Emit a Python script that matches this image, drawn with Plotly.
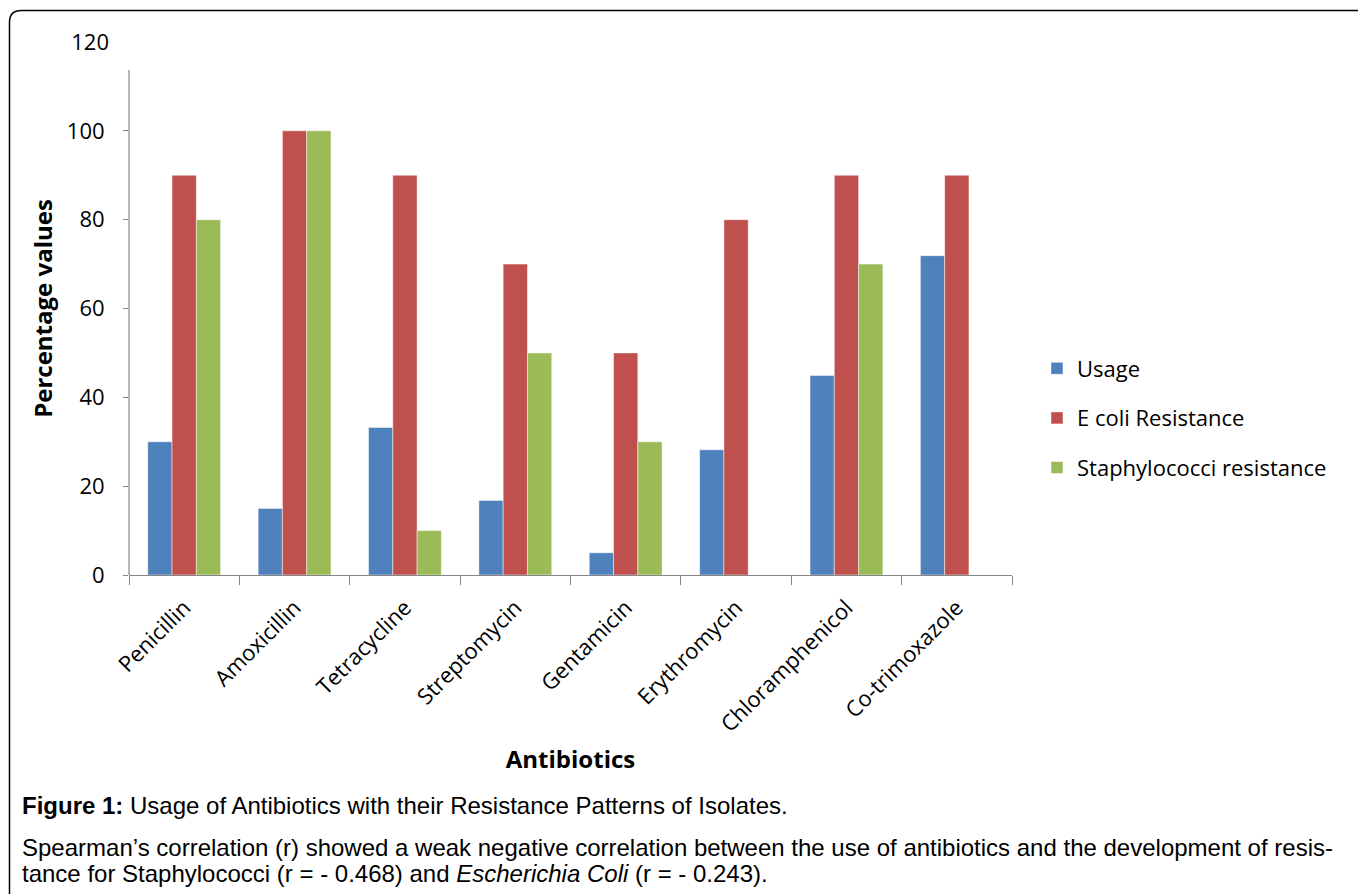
import plotly.graph_objects as go

# Antibiotic names on the category axis
antibiotics = ["Penicillin", "Amoxicillin", "Tetracycline", "Streptomycin",
               "Gentamicin", "Erythromycin", "Chloramphenicol", "Co-trimoxazole"]

# Percentage values per series (None = not tested)
usage = [30, 15, 33.2, 16.8, 5, 28.2, 44.9, 71.9]
ecoli_resistance = [90, 100, 90, 70, 50, 80, 90, 90]
staph_resistance = [80, 100, 10, 50, 30, None, 70, None]

y_ticks = [0, 20, 40, 60, 80, 100]
y_top_tick = [120]

series = [
    ("Usage", usage, "#4F81BD"),
    ("E coli Resistance", ecoli_resistance, "#C0504D"),
    ("Staphylococci resistance", staph_resistance, "#9BBB59"),
]

W, H = 1358, 894
L, R, T, B = 129, 1012, 42, 575  # plot area in pixels


def px(x):
    return (x - L) / (R - L)


def py(y):
    return (B - y) / (B - T)


fig = go.Figure()
for i, (name, vals, color) in enumerate(series):
    fig.add_trace(go.Bar(
        x=antibiotics, y=vals, name=name, legendgroup=f"g{i}",
        marker=dict(color=color, line=dict(color="rgba(255,255,255,0.6)", width=0.8)),
    ))

tick_font = dict(family="Open Sans", size=22, color="black")
axis_gray = "#868686"

fig.update_layout(
    width=W, height=H,
    margin=dict(l=L, r=W - R, t=T, b=H - B),
    paper_bgcolor="white", plot_bgcolor="white",
    barmode="group", bargap=0.34, bargroupgap=0,
    font=dict(family="Open Sans", color="black"),
    legend=dict(
        x=px(1037), y=py(418), xanchor="left", yanchor="middle",
        font=dict(family="Open Sans", size=22, color="black"),
        traceorder="grouped", tracegroupgap=18,
        itemwidth=30, bgcolor="rgba(0,0,0,0)",
    ),
    xaxis=dict(
        type="category", range=[-0.5, len(antibiotics) - 0.5],
        showline=True, linecolor=axis_gray, linewidth=1.2,
        ticks="outside", tickson="boundaries", ticklen=9, tickcolor=axis_gray, tickwidth=1.2,
        tickangle=-45, tickfont=tick_font, ticklabelstandoff=10,
        showgrid=False, automargin=False,
        title=dict(text="<b>Antibiotics</b>", font=dict(family="Open Sans", size=24, color="black"),
                   standoff=14),
    ),
    yaxis=dict(
        range=[0, 120], tickvals=y_ticks, showline=False,
        ticks="outside", ticklen=5, tickcolor=axis_gray, tickwidth=1.2,
        tickfont=tick_font, ticklabelstandoff=14, showgrid=False, zeroline=False,
        automargin=False,
        title=dict(text="<b>Percentage values</b>", font=dict(family="Open Sans", size=24, color="black"),
                   standoff=7),
    ),
    # top label of the value scale, shown without a tick mark
    yaxis2=dict(
        overlaying="y", side="left", range=[0, 120], tickvals=y_top_tick,
        ticks="", ticklen=5, tickfont=tick_font, ticklabelstandoff=19,
        showgrid=False, zeroline=False, showline=False, automargin=False,
    ),
)

# invisible trace so the secondary scale is drawn
fig.add_trace(go.Bar(x=[antibiotics[0]], y=[None], yaxis="y2", showlegend=False,
                     hoverinfo="skip"))

# vertical axis line, stopping below the top tick label
fig.add_shape(type="line", xref="paper", yref="y", x0=0, x1=0, y0=0, y1=113.7,
              line=dict(color=axis_gray, width=1.2))

# rounded frame around the figure
frame = (f"M {px(9.5)},{py(H + 20)} L {px(9.5)},{py(22)} "
         f"Q {px(9.5)},{py(10.5)} {px(21.5)},{py(10.5)} L {px(W + 20)},{py(10.5)}")
fig.add_shape(type="path", xref="paper", yref="paper", path=frame,
              line=dict(color="black", width=1.5))

cap_font = dict(family="Liberation Sans", size=24, color="black")
captions = [
    ("<b>Figure 1:</b> Usage of Antibiotics with their Resistance Patterns of Isolates.", 805),
    ("Spearman’s correlation (r) showed a weak negative correlation between the use of antibiotics "
     "and the development of resis-", 847),
    ("tance for Staphylococci (r = - 0.468) and <i>Escherichia Coli</i> (r = - 0.243).", 873),
]
for text, ypx in captions:
    fig.add_annotation(text=text, xref="paper", yref="paper", x=px(20), y=py(ypx),
                       xanchor="left", yanchor="middle", showarrow=False, font=cap_font)

fig.write_html("out.html")
